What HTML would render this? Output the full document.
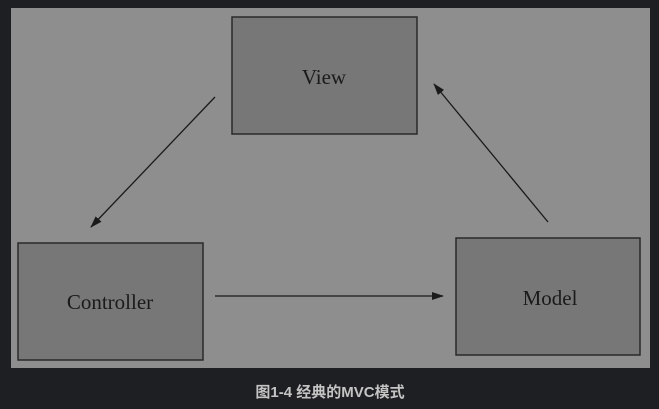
<!DOCTYPE html>
<html><head><meta charset="utf-8"><style>
html,body{margin:0;padding:0;width:659px;height:409px;background:#1e1f22;overflow:hidden}
</style></head><body>
<svg width="659" height="409" xmlns="http://www.w3.org/2000/svg">
<defs><marker id="a" markerWidth="12" markerHeight="8" refX="11" refY="4" orient="auto" markerUnits="userSpaceOnUse"><path d="M0,0 L12,4 L0,8 Z" fill="#1a1a1a"/></marker></defs>
<rect x="11" y="8" width="639" height="360" fill="#8e8e8e"/>
<g fill="#777" stroke="#2a2a2a" stroke-width="1.5">
<rect x="232" y="17" width="185" height="117"/>
<rect x="18" y="243" width="185" height="117"/>
<rect x="456" y="238" width="184" height="117"/>
</g>
<g font-family="Liberation Serif, serif" font-size="21" fill="#1a1a1a" text-anchor="middle">
<text x="324" y="84">View</text>
<text x="110" y="309">Controller</text>
<text x="550" y="305">Model</text>
</g>
<g stroke="#1a1a1a" stroke-width="1.3" marker-end="url(#a)">
<line x1="215" y1="97" x2="91" y2="227"/>
<line x1="215" y1="296" x2="443" y2="296"/>
<line x1="548" y1="222" x2="434" y2="84"/>
</g>
<text x="330" y="397" text-anchor="middle" font-family="Liberation Sans, Noto Sans CJK SC, sans-serif" font-weight="bold" font-size="15" fill="#c4c4c4">图1-4 经典的MVC模式</text>
</svg>
</body></html>
